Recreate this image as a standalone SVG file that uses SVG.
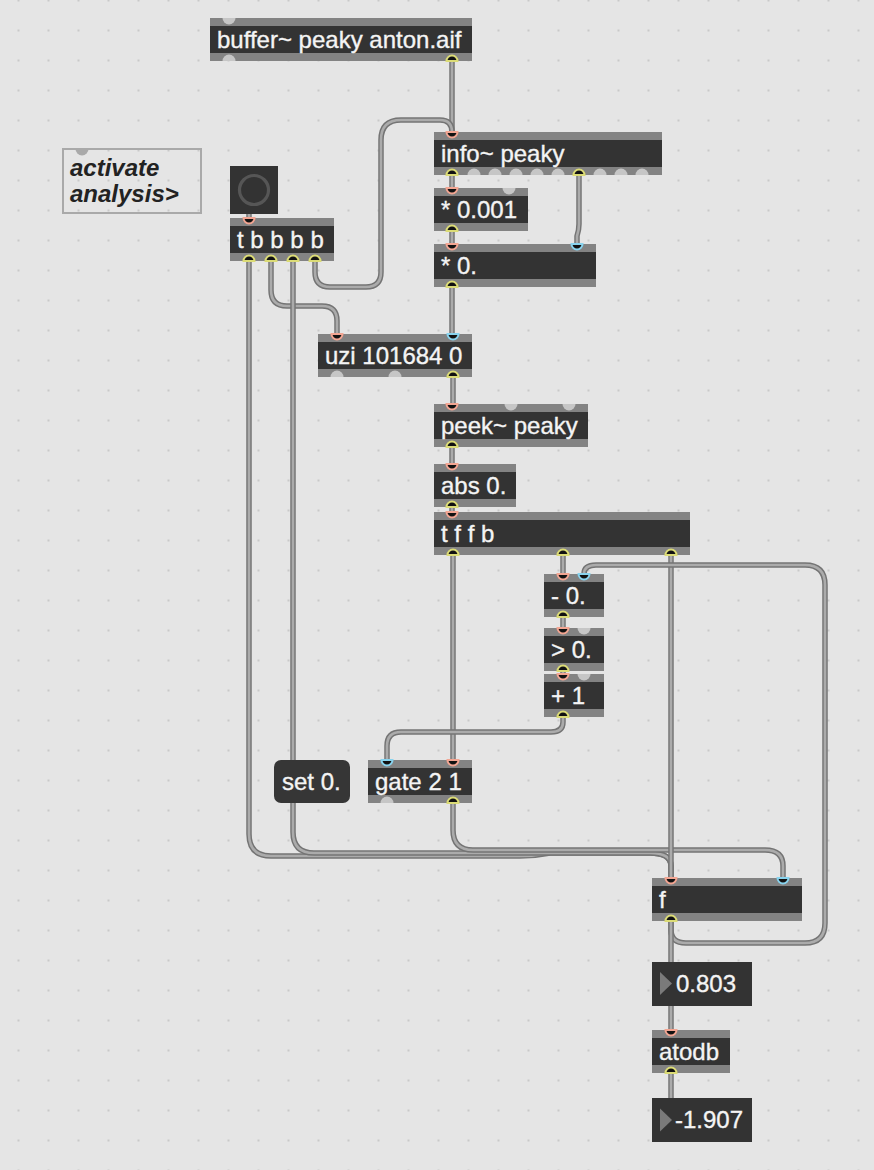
<svg xmlns="http://www.w3.org/2000/svg" xmlns:xlink="http://www.w3.org/1999/xlink" width="874" height="1170" viewBox="0 0 874 1170">
<style>
.band{fill:#838383}
.body{fill:#333333}
.t{font-family:"Liberation Sans",Arial,Helvetica,sans-serif;font-size:24px;fill:#f4f4f4;stroke:#f4f4f4;stroke-width:0.35}
.cm{font-family:"Liberation Sans",Arial,Helvetica,sans-serif;font-size:24px;font-weight:bold;font-style:italic;fill:#222222}
.co{fill:none;stroke:#747474;stroke-width:5.5;stroke-linecap:round;stroke-linejoin:round}
.ci{fill:none;stroke:#ababab;stroke-width:2.6;stroke-linecap:round;stroke-linejoin:round}
.in{fill:#111111;stroke:#f3a592;stroke-width:2}
.inb{fill:#111111;stroke:#88d3ee;stroke-width:2}
.out{fill:#111111;stroke:#dcdc76;stroke-width:2}
.nc{fill:#c6c6c6}
.tri{fill:#7a7a7a}
</style>
<defs>
<pattern id="dots" width="30" height="30" patternUnits="userSpaceOnUse" x="3.5" y="15.5">
<circle cx="15" cy="15" r="1.1" fill="#c3c3c3"/>
</pattern>
<path id="pi" d="M-5.5,0 a5.5,5.5 0 0 0 11,0 z"/>
<path id="po" d="M-5.5,0 a5.5,5.5 0 0 1 11,0 z"/>
<path id="ui" d="M-6.5,0 a6.5,6.5 0 0 0 13,0 z"/>
<path id="uo" d="M-6.5,0 a6.5,6.5 0 0 1 13,0 z"/>
<path id="c1" d="M452,61 V132"/>
<path id="c2" d="M315,261 V272 Q315,287 330,287 H366 Q381,287 381,272 V140 Q381,120 401,120 H440 Q452,120 452,132"/>
<path id="c3" d="M452,175 V188"/>
<path id="c4" d="M579,175 V224 Q579,230 577,236 V244"/>
<path id="c5" d="M452,231 V244"/>
<path id="c6" d="M452,287 V334"/>
<path id="c7" d="M249,214 V218"/>
<path id="c8" d="M271,261 V290 Q271,306 287,306 H322 Q337,306 337,321 V334"/>
<path id="c9" d="M293,261 V760"/>
<path id="c10" d="M249,261 V834 Q249,856 271,856 H520 Q535,856 550,853 H650 Q671,853 671,866 V878"/>
<path id="c11" d="M293,803 V832 Q293,853 314,853 H650 Q671,853 671,866 V878"/>
<path id="c12" d="M453,803 V830 Q453,850 473,850 H765 Q783,850 783,866 V878"/>
<path id="c13" d="M453,377 V404"/>
<path id="c14" d="M452,447 V464"/>
<path id="c15" d="M452,507 V512"/>
<path id="c16" d="M453,555 V760"/>
<path id="c17" d="M563,555 V574"/>
<path id="c18" d="M671,555 V878"/>
<path id="c19" d="M671,921 V930 Q671,943 686,943 H805 Q825,943 825,923 V585 Q825,565 805,565 H596 Q584,565 584,574"/>
<path id="c20" d="M563,617 V628"/>
<path id="c21" d="M563,671 V674"/>
<path id="c22" d="M563,717 V722 Q563,732 551,732 H401 Q387,732 387,746 V760"/>
<path id="c23" d="M671,921 V962"/>
<path id="c24" d="M671,1006 V1030"/>
<path id="c25" d="M671,1073 V1098"/>
</defs>
<rect width="874" height="1170" fill="#e5e5e5"/>
<rect width="874" height="1170" fill="url(#dots)"/>

<g id="connectors">
<use href="#c1" class="co"/><use href="#c1" class="ci"/>
<use href="#c2" class="co"/><use href="#c2" class="ci"/>
<use href="#c3" class="co"/><use href="#c3" class="ci"/>
<use href="#c4" class="co"/><use href="#c4" class="ci"/>
<use href="#c5" class="co"/><use href="#c5" class="ci"/>
<use href="#c6" class="co"/><use href="#c6" class="ci"/>
<use href="#c7" class="co"/><use href="#c7" class="ci"/>
<use href="#c8" class="co"/><use href="#c8" class="ci"/>
<use href="#c9" class="co"/><use href="#c9" class="ci"/>
<use href="#c10" class="co"/><use href="#c10" class="ci"/>
<use href="#c11" class="co"/><use href="#c11" class="ci"/>
<use href="#c12" class="co"/><use href="#c12" class="ci"/>
<use href="#c13" class="co"/><use href="#c13" class="ci"/>
<use href="#c14" class="co"/><use href="#c14" class="ci"/>
<use href="#c15" class="co"/><use href="#c15" class="ci"/>
<use href="#c16" class="co"/><use href="#c16" class="ci"/>
<use href="#c17" class="co"/><use href="#c17" class="ci"/>
<use href="#c18" class="co"/><use href="#c18" class="ci"/>
<use href="#c19" class="co"/><use href="#c19" class="ci"/>
<use href="#c20" class="co"/><use href="#c20" class="ci"/>
<use href="#c21" class="co"/><use href="#c21" class="ci"/>
<use href="#c22" class="co"/><use href="#c22" class="ci"/>
<use href="#c23" class="co"/><use href="#c23" class="ci"/>
<use href="#c24" class="co"/><use href="#c24" class="ci"/>
<use href="#c25" class="co"/><use href="#c25" class="ci"/>
</g>

<g id="n-comment">
<rect x="63" y="149" width="138" height="64" fill="none" stroke="#a9a9a9" stroke-width="2"/>
<use href="#ui" x="82" y="149" fill="#a9a9a9"/>
<text class="cm" x="70" y="175.5">activate</text>
<text class="cm" x="70" y="201.5">analysis&gt;</text>
</g>

<g id="n-buffer">
<rect class="band" x="210" y="18" width="262" height="43"/>
<rect class="body" x="210" y="26" width="262" height="27"/>
<text class="t" x="217" y="47.5">buffer~ peaky anton.aif</text>
<use href="#ui" x="229" y="18" class="nc"/>
<use href="#uo" x="229" y="61" class="nc"/>
<use href="#po" x="452" y="61" class="out"/>
</g>

<g id="n-info">
<rect class="band" x="434" y="132" width="228" height="43"/>
<rect class="body" x="434" y="140" width="228" height="27"/>
<text class="t" x="441" y="161.5">info~ peaky</text>
<use href="#pi" x="452" y="132" class="in"/>
<use href="#po" x="452" y="175" class="out"/>
<use href="#uo" x="474" y="175" class="nc"/>
<use href="#uo" x="495" y="175" class="nc"/>
<use href="#uo" x="516" y="175" class="nc"/>
<use href="#uo" x="537" y="175" class="nc"/>
<use href="#uo" x="558" y="175" class="nc"/>
<use href="#po" x="579" y="175" class="out"/>
<use href="#uo" x="600" y="175" class="nc"/>
<use href="#uo" x="621" y="175" class="nc"/>
<use href="#uo" x="642" y="175" class="nc"/>
</g>

<g id="n-mul001">
<rect class="band" x="434" y="188" width="94" height="43"/>
<rect class="body" x="434" y="196" width="94" height="27"/>
<text class="t" x="441" y="217.5">* 0.001</text>
<use href="#pi" x="452" y="188" class="in"/>
<use href="#ui" x="509" y="188" class="nc"/>
<use href="#po" x="452" y="231" class="out"/>
</g>

<g id="n-mul0">
<rect class="band" x="434" y="244" width="162" height="43"/>
<rect class="body" x="434" y="252" width="162" height="27"/>
<text class="t" x="441" y="273.5">* 0.</text>
<use href="#pi" x="452" y="244" class="in"/>
<use href="#pi" x="577" y="244" class="inb"/>
<use href="#po" x="452" y="287" class="out"/>
</g>

<g id="n-bang">
<rect x="230" y="166" width="48" height="48" fill="#333333"/>
<circle cx="254" cy="190" r="14.5" fill="none" stroke="#565656" stroke-width="3.2"/>
</g>

<g id="n-tbbbb">
<rect class="band" x="230" y="218" width="104" height="43"/>
<rect class="body" x="230" y="226" width="104" height="27"/>
<text class="t" x="237" y="247.5">t b b b b</text>
<use href="#pi" x="249" y="218" class="in"/>
<use href="#po" x="249" y="261" class="out"/>
<use href="#po" x="271" y="261" class="out"/>
<use href="#po" x="293" y="261" class="out"/>
<use href="#po" x="315" y="261" class="out"/>
</g>

<g id="n-uzi">
<rect class="band" x="318" y="334" width="154" height="43"/>
<rect class="body" x="318" y="342" width="154" height="27"/>
<text class="t" x="325" y="363.5">uzi 101684 0</text>
<use href="#pi" x="337" y="334" class="in"/>
<use href="#pi" x="453" y="334" class="inb"/>
<use href="#uo" x="337" y="377" class="nc"/>
<use href="#uo" x="395" y="377" class="nc"/>
<use href="#po" x="453" y="377" class="out"/>
</g>

<g id="n-peek">
<rect class="band" x="434" y="404" width="154" height="43"/>
<rect class="body" x="434" y="412" width="154" height="27"/>
<text class="t" x="441" y="433.5">peek~ peaky</text>
<use href="#pi" x="452" y="404" class="in"/>
<use href="#ui" x="511" y="404" class="nc"/>
<use href="#ui" x="569" y="404" class="nc"/>
<use href="#po" x="452" y="447" class="out"/>
</g>

<g id="n-abs">
<rect class="band" x="434" y="464" width="82" height="43"/>
<rect class="body" x="434" y="472" width="82" height="27"/>
<text class="t" x="441" y="493.5">abs 0.</text>
<use href="#pi" x="452" y="464" class="in"/>
<use href="#po" x="452" y="507" class="out"/>
</g>

<g id="n-tffb">
<rect class="band" x="434" y="512" width="256" height="43"/>
<rect class="body" x="434" y="520" width="256" height="27"/>
<text class="t" x="441" y="541.5">t f f b</text>
<use href="#pi" x="452" y="512" class="in"/>
<use href="#po" x="453" y="555" class="out"/>
<use href="#po" x="563" y="555" class="out"/>
<use href="#po" x="671" y="555" class="out"/>
</g>

<g id="n-sub">
<rect class="band" x="544" y="574" width="60" height="43"/>
<rect class="body" x="544" y="582" width="60" height="27"/>
<text class="t" x="551" y="603.5">- 0.</text>
<use href="#pi" x="563" y="574" class="in"/>
<use href="#pi" x="584" y="574" class="inb"/>
<use href="#po" x="563" y="617" class="out"/>
</g>

<g id="n-gt">
<rect class="band" x="544" y="628" width="60" height="43"/>
<rect class="body" x="544" y="636" width="60" height="27"/>
<text class="t" x="551" y="657.5">&gt; 0.</text>
<use href="#pi" x="563" y="628" class="in"/>
<use href="#ui" x="584" y="628" class="nc"/>
<use href="#po" x="563" y="671" class="out"/>
</g>

<g id="n-add">
<rect class="band" x="544" y="674" width="60" height="43"/>
<rect class="body" x="544" y="682" width="60" height="27"/>
<text class="t" x="551" y="703.5">+ 1</text>
<use href="#pi" x="563" y="674" class="in"/>
<use href="#ui" x="584" y="674" class="nc"/>
<use href="#po" x="563" y="717" class="out"/>
</g>

<g id="n-set">
<rect x="274" y="760" width="76" height="43" rx="7" fill="#363636"/>
<text class="t" x="282" y="789.5">set 0.</text>
</g>

<g id="n-gate">
<rect class="band" x="368" y="760" width="104" height="43"/>
<rect class="body" x="368" y="768" width="104" height="27"/>
<text class="t" x="375" y="789.5">gate 2 1</text>
<use href="#pi" x="387" y="760" class="inb"/>
<use href="#pi" x="453" y="760" class="in"/>
<use href="#uo" x="387" y="803" class="nc"/>
<use href="#po" x="453" y="803" class="out"/>
</g>

<g id="n-f">
<rect class="band" x="652" y="878" width="150" height="43"/>
<rect class="body" x="652" y="886" width="150" height="27"/>
<text class="t" x="659" y="907.5">f</text>
<use href="#pi" x="671" y="878" class="in"/>
<use href="#pi" x="783" y="878" class="inb"/>
<use href="#po" x="671" y="921" class="out"/>
</g>

<g id="n-num1">
<rect x="652" y="962" width="100" height="44" fill="#333333"/>
<polygon class="tri" points="660,972 672,983.5 660,995"/>
<text class="t" x="676" y="991.5">0.803</text>
</g>

<g id="n-atodb">
<rect class="band" x="652" y="1030" width="78" height="43"/>
<rect class="body" x="652" y="1038" width="78" height="27"/>
<text class="t" x="659" y="1059.5">atodb</text>
<use href="#pi" x="671" y="1030" class="in"/>
<use href="#po" x="671" y="1073" class="out"/>
</g>

<g id="n-num2">
<rect x="652" y="1098" width="100" height="44" fill="#333333"/>
<polygon class="tri" points="660,1108.5 672,1120 660,1131.5"/>
<text class="t" x="675" y="1127.5">-1.907</text>
</g>
</svg>
